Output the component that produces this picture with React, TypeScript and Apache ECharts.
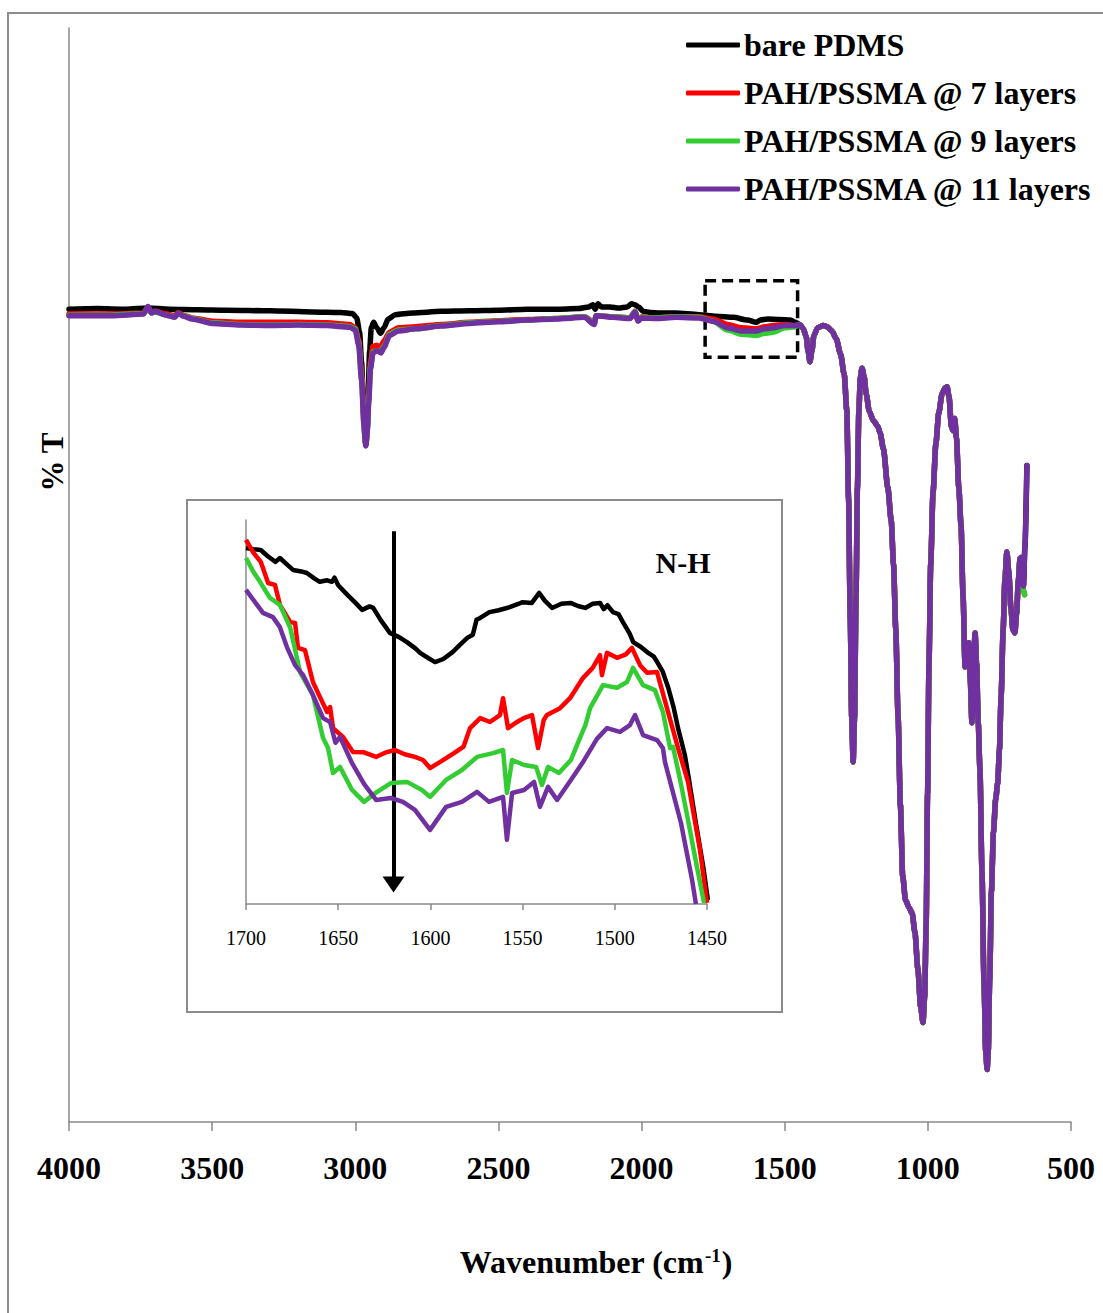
import React, { useEffect, useRef } from "react";
import * as echarts from "echarts";

const SERIES_NAMES = ["bare PDMS", "PAH/PSSMA @ 7 layers", "PAH/PSSMA @ 9 layers", "PAH/PSSMA @ 11 layers"];
const COLORS = ["#000000", "#ff0000", "#33cc33", "#7030a0"];

const MAIN_X = { min: 500, max: 4000, interval: 500 };
const INSET_X = { min: 1450, max: 1700, interval: 50 };

// ---- main spectrum, high-wavenumber part (differs per sample) ----
const BLACK_HI = [
  [4000, 74.3], [3900, 74.35], [3800, 74.3], [3724, 74.4], [3650, 74.3], [3550, 74.25], [3450, 74.2], [3300, 74.15],
  [3150, 74.05], [3050, 74.0], [3010, 73.9], [2995, 73.5], [2985, 72.2], [2978, 69.5], [2972, 66], [2967, 62.8],
  [2963, 61.9], [2959, 63], [2955, 66.5], [2950, 70.5], [2944, 72.6], [2936, 73.1], [2925, 72.6], [2912, 72.1],
  [2900, 72.6], [2885, 73.4], [2860, 73.8], [2800, 73.95], [2700, 74.1], [2600, 74.15], [2500, 74.2], [2400, 74.3],
  [2300, 74.3], [2220, 74.35], [2185, 74.5], [2170, 74.7], [2162, 74.3], [2152, 74.8], [2140, 74.5], [2110, 74.5],
  [2080, 74.4], [2050, 74.5], [2035, 74.8], [2023, 74.7], [2010, 74.5], [1995, 74.1], [1970, 74.0], [1936, 73.95],
  [1880, 73.95], [1800, 73.8], [1740, 73.65], [1680, 73.55], [1630, 73.3], [1600, 73.1], [1585, 73.3], [1560, 73.4],
  [1520, 73.35], [1480, 73.3], [1464, 73.1],
];
const RED_HI = [
  [4000, 73.85], [3850, 73.85], [3740, 73.95], [3724, 74.5], [3712, 74.0], [3700, 74.1], [3660, 73.85], [3630, 73.7],
  [3619, 74.0], [3600, 73.75], [3570, 73.5], [3500, 73.2], [3400, 73.1], [3300, 73.1], [3200, 73.1], [3100, 73.05],
  [3020, 72.9], [3000, 72.6], [2988, 71.5], [2978, 68.5], [2970, 64.5], [2963, 61.9], [2958, 63.5], [2953, 66.5],
  [2947, 69.5], [2938, 70.9], [2925, 71.0], [2912, 70.8], [2900, 71.4], [2880, 72.2], [2850, 72.6], [2788, 72.7],
  [2700, 72.9], [2600, 73.1], [2500, 73.25], [2400, 73.35], [2300, 73.45], [2200, 73.6], [2165, 73.1], [2159, 73.7],
  [2100, 73.6], [2040, 73.5], [2023, 74.1], [2012, 73.3], [2000, 73.6], [1950, 73.5], [1880, 73.6], [1800, 73.6],
  [1750, 73.4], [1700, 72.9], [1650, 72.6], [1600, 72.5], [1570, 72.7], [1540, 72.8], [1500, 72.9], [1464, 72.8],
];
const GREEN_HI = [
  [4000, 73.75], [3850, 73.75], [3740, 73.9], [3724, 74.4], [3712, 73.95], [3700, 74.05], [3660, 73.75], [3630, 73.6],
  [3619, 73.9], [3600, 73.7], [3570, 73.45], [3500, 73.05], [3400, 72.9], [3300, 72.85], [3200, 72.9], [3100, 72.85],
  [3020, 72.7], [3000, 72.5], [2988, 71.2], [2978, 68], [2970, 64], [2963, 61.9], [2958, 63.3], [2953, 66],
  [2947, 69], [2938, 70.4], [2925, 70.5], [2912, 70.4], [2900, 70.9], [2880, 72.0], [2850, 72.4], [2788, 72.5],
  [2700, 72.8], [2600, 73.05], [2500, 73.2], [2400, 73.3], [2300, 73.45], [2200, 73.6], [2165, 73.0], [2159, 73.7],
  [2100, 73.6], [2040, 73.5], [2023, 74.1], [2012, 73.3], [2000, 73.55], [1950, 73.5], [1880, 73.6], [1800, 73.55],
  [1750, 73.2], [1700, 72.4], [1650, 72.0], [1600, 71.9], [1570, 72.1], [1540, 72.2], [1500, 72.6], [1464, 72.7],
];
const PURPLE_HI = [
  [4000, 73.7], [3850, 73.7], [3740, 73.85], [3724, 74.55], [3712, 73.95], [3700, 74.1], [3660, 73.75], [3630, 73.55],
  [3619, 73.95], [3600, 73.65], [3570, 73.4], [3500, 73.0], [3400, 72.85], [3300, 72.8], [3200, 72.85], [3100, 72.8],
  [3020, 72.65], [3000, 72.4], [2988, 71.0], [2978, 67.8], [2970, 63.8], [2963, 61.8], [2958, 63.2], [2953, 65.8],
  [2947, 68.8], [2938, 70.3], [2925, 70.5], [2910, 70.3], [2900, 70.8], [2880, 71.9], [2850, 72.3], [2788, 72.5],
  [2700, 72.75], [2600, 73.0], [2500, 73.15], [2400, 73.3], [2300, 73.4], [2200, 73.55], [2165, 72.9], [2159, 73.7],
  [2100, 73.55], [2040, 73.45], [2023, 74.05], [2012, 73.2], [2000, 73.5], [1950, 73.45], [1880, 73.55], [1800, 73.5],
  [1750, 73.2], [1700, 72.6], [1650, 72.3], [1600, 72.3], [1570, 72.5], [1540, 72.6], [1500, 72.8], [1464, 72.8],
];

// ---- main spectrum, fingerprint region (common to all samples) ----
const FINGERPRINT = [
  [1447, 72.9], [1435, 72.5], [1425, 71.8], [1418, 70.4], [1412, 69.5], [1405, 70.5], [1398, 71.9], [1385, 72.6],
  [1365, 72.8], [1352, 72.7], [1335, 72.3], [1320, 71.6], [1305, 70.2], [1292, 68.3], [1283, 65], [1277, 57],
  [1271, 46], [1266, 37], [1261, 32.9], [1256, 37], [1251, 48], [1246, 58], [1241, 65], [1236, 68], [1230, 68.9],
  [1223, 68.2], [1215, 66.5], [1205, 65], [1190, 64.1], [1175, 63.6], [1167, 63.0], [1155, 61.5], [1140, 58],
  [1128, 55], [1120, 51], [1112, 45], [1104, 37], [1096, 29], [1088, 22.5], [1078, 20.3], [1066, 19.6], [1055, 19.1],
  [1045, 17.3], [1035, 14], [1025, 10.5], [1017, 9.1], [1011, 11.5], [1006, 18], [1001, 30], [996, 42], [990, 51],
  [982, 57.5], [972, 62], [962, 64.8], [950, 66.6], [940, 67.1], [933, 67.2], [926, 66.3], [918, 63.6], [912, 63.2],
  [906, 64.3], [900, 62.5], [892, 58], [884, 54.5], [877, 48], [870, 41.6], [863, 43.2], [857, 43.8], [852, 40.5],
  [846, 36.5], [841, 41.5], [835, 44.7], [830, 42], [824, 36.5], [818, 32.2], [811, 23], [804, 13], [798, 6.5],
  [793, 4.8], [789, 6.5], [784, 13], [778, 21], [771, 26.5], [763, 29.5], [756, 31], [750, 34], [744, 39], [737, 45],
  [731, 49.5], [724, 52.1], [717, 50.2], [710, 47], [703, 45], [696, 44.7], [690, 46.5], [684, 49.5], [678, 51.5],
  [675, 51.6], [670, 50],
];
const TAIL_BLACK_PURPLE = [[666, 49], [661, 52.5], [654, 60]];
const TAIL_RED_GREEN = [[666, 48.6], [662, 48.2]];

// ---- inset (1700-1450 cm-1) ----
const INSET_BLACK = [
  [1700, 92.7], [1696, 92.4], [1692, 92.2], [1688, 90.5], [1684, 89.1], [1681.6, 90.1], [1678, 88.5], [1674.5, 87],
  [1670, 86.6], [1667, 86.2], [1663, 84.8], [1660, 83.9], [1656, 84.3], [1653.4, 83.9], [1652, 85], [1650, 83],
  [1645, 80.5], [1641, 78.6], [1637, 76.6], [1633, 77.5], [1631, 77.1], [1627, 74], [1622, 70.6], [1617, 69.5],
  [1612.7, 68.2], [1608, 66.5], [1605.6, 65.4], [1601, 64], [1597.5, 63], [1593, 63.8], [1588, 65.6], [1584, 67.5],
  [1580, 69.3], [1577, 70.1], [1575, 74], [1573, 74.5], [1568, 76], [1563, 76.5], [1557, 77.3], [1552, 78.2],
  [1550, 78.6], [1545, 78.4], [1541, 81], [1538, 79], [1534, 77.1], [1529, 78.2], [1524, 78.4], [1520, 77.6],
  [1516, 77.1], [1512, 78.2], [1508, 78.4], [1506, 76.8], [1504, 77.8], [1501, 76], [1498, 75.5], [1495.6, 73.4],
  [1492, 70.5], [1490, 68.2], [1486, 67], [1482.5, 65.6], [1479, 64.5], [1477, 63], [1474, 60.5], [1471, 56.3],
  [1468, 51], [1465.7, 45.8], [1462, 38.8], [1460, 33.1], [1456, 21], [1452, 9.6], [1449.5, 1],
];
const INSET_RED = [
  [1700, 94.8], [1696, 91.5], [1692, 89.1], [1688, 83.6], [1684.3, 83.1], [1681.6, 77.9], [1676, 73.4], [1673.4, 73.2],
  [1671.8, 66.7], [1668, 66.1], [1663.7, 57.8], [1660, 54], [1656, 50], [1654.4, 51.3], [1652.8, 45.8], [1647.4, 43.5],
  [1642, 39.6], [1636, 39.5], [1629.5, 38.3], [1624, 39.5], [1619.2, 40.1], [1614, 39], [1608.4, 38.3], [1604, 37.5],
  [1600.2, 35.4], [1594, 37.2], [1587.2, 39.3], [1582, 41], [1578.5, 45.8], [1573, 48.4], [1567.7, 47.4], [1562.3, 49.2],
  [1560.6, 53.6], [1557.9, 45.8], [1553, 47.4], [1549, 48.5], [1544.9, 49.2], [1541.6, 40.6], [1538.5, 48],
  [1536.8, 49.2], [1529.7, 51], [1524.3, 53.6], [1517.2, 58.9], [1512, 61.5], [1508, 64.8], [1507, 59.6],
  [1504.2, 65.4], [1498.8, 64.1], [1494, 65], [1490.7, 66.7], [1486.3, 62.2], [1482.5, 60.2], [1477.1, 60.4],
  [1471.7, 51], [1465.7, 40.6], [1460.3, 31.8], [1453.8, 14.1], [1450, 0.3],
];
const INSET_GREEN = [
  [1700, 90.1], [1696, 86.5], [1692.4, 83.9], [1687, 79.7], [1681.6, 77.9], [1676, 71.9], [1670.7, 60.4], [1663.7, 54.4],
  [1658.2, 43.2], [1655.5, 40.6], [1652.8, 34.1], [1649, 35.7], [1645, 32], [1642.5, 29.7], [1636, 26.6], [1629.5, 29],
  [1621.4, 31.5], [1612.7, 31.8], [1604.6, 29.7], [1600.2, 27.9], [1596, 30], [1591.5, 32.3], [1582.9, 34.9],
  [1574.7, 38.3], [1566, 39.3], [1560.6, 40.1], [1558.5, 28.9], [1555.7, 37.5], [1549.2, 36.2], [1542.7, 35.7],
  [1539.5, 31], [1536.2, 35.7], [1530.3, 34.1], [1523.8, 37.5], [1519.4, 42.7], [1516, 46.5], [1513.4, 51],
  [1506.4, 57], [1498.8, 56.3], [1493.4, 57.8], [1490.1, 61.5], [1484.7, 57], [1478.2, 55.7], [1473.9, 50],
  [1470, 40.6], [1468.4, 40.9], [1464, 31], [1460.3, 21.9], [1456, 11], [1451.6, 0.3],
];
const INSET_PURPLE = [
  [1700, 81.8], [1694, 77.9], [1690.8, 75.8], [1685.4, 74.7], [1681.6, 72.1], [1677.8, 66.9], [1673.4, 62.2], [1669, 59.6],
  [1663.7, 54.4], [1658.2, 48.4], [1654.4, 47.4], [1651.5, 42], [1649, 43.5], [1642.5, 36.7], [1636, 31.3],
  [1629.5, 27.1], [1621.4, 27.6], [1614.9, 26.6], [1608.4, 24.5], [1600.2, 19.3], [1591.5, 25.3], [1582.9, 26.6],
  [1574.7, 29.2], [1568.2, 26.6], [1560.6, 27.9], [1558.5, 16.7], [1555.7, 28.9], [1549.2, 29.7], [1543.8, 31.8],
  [1540.6, 25.3], [1536.2, 30.5], [1531.3, 27.1], [1523.8, 32.3], [1517.2, 37], [1509.7, 43], [1504.2, 45.8],
  [1497.2, 44.8], [1491.8, 46.6], [1489, 49.2], [1484.7, 44], [1477.1, 42.7], [1473.9, 40.6], [1472.8, 37],
  [1464.1, 21.1], [1458.1, 6.3], [1456, 0],
];

// annotations (data coordinates)
const ZOOM_BOX = { x1: 1778, x2: 1455, y1: 76.9, y2: 69.9 };
const ARROW = { x: 1620, yFrom: 97.1, yTo: 5.1 };

const FONT = "'Times New Roman', 'Liberation Serif', serif";
const AXIS_GRAY = "#8a8a8a";

export default function App() {
  const ref = useRef<HTMLDivElement>(null);

  useEffect(() => {
    if (!ref.current) return;
    const chart = echarts.init(ref.current, null, { renderer: "svg" });

    const mainData = [
      BLACK_HI.concat(FINGERPRINT, TAIL_BLACK_PURPLE),
      RED_HI.concat(FINGERPRINT, TAIL_RED_GREEN),
      GREEN_HI.concat(FINGERPRINT, TAIL_RED_GREEN),
      PURPLE_HI.concat(FINGERPRINT, TAIL_BLACK_PURPLE),
    ];
    const insetData = [INSET_BLACK, INSET_RED, INSET_GREEN, INSET_PURPLE];

    const series: any[] = [];
    SERIES_NAMES.forEach((name, i) => {
      const s: any = {
        type: "line",
        name,
        xAxisIndex: 0,
        yAxisIndex: 0,
        data: mainData[i],
        showSymbol: false,
        symbol: "none",
        smooth: 0.25,
        smoothMonotone: "x",
        lineStyle: { color: COLORS[i], width: 5.5, cap: "round", join: "round" },
        itemStyle: { color: COLORS[i] },
        z: 2 + i,
      };
      if (i === 0) {
        s.markArea = {
          silent: true,
          itemStyle: {
            color: "rgba(0,0,0,0)",
            borderColor: "#000",
            borderWidth: 3.5,
            borderType: [11, 6],
          },
          data: [[{ coord: [ZOOM_BOX.x1, ZOOM_BOX.y1] }, { coord: [ZOOM_BOX.x2, ZOOM_BOX.y2] }]],
        };
      }
      series.push(s);
    });
    SERIES_NAMES.forEach((name, i) => {
      const s: any = {
        type: "line",
        name,
        xAxisIndex: 1,
        yAxisIndex: 1,
        data: insetData[i],
        showSymbol: false,
        symbol: "none",
        lineStyle: { color: COLORS[i], width: 4.5, join: "round" },
        itemStyle: { color: COLORS[i] },
        z: 10 + i,
      };
      if (i === 3) {
        s.markLine = {
          silent: true,
          symbol: ["none", "triangle"],
          symbolSize: [22, 16],
          lineStyle: { color: "#000", width: 4, type: "solid" },
          label: { show: false },
          data: [[{ coord: [ARROW.x, ARROW.yFrom] }, { coord: [ARROW.x, ARROW.yTo] }]],
        };
      }
      series.push(s);
    });

    chart.setOption({
      animation: false,
      backgroundColor: "#ffffff",
      grid: [
        { left: 69, right: 32, top: 28, bottom: 191 },
        { left: 246, right: 396, top: 520, bottom: 409 },
      ],
      legend: {
        show: true,
        orient: "vertical",
        left: 686,
        top: 29,
        padding: 0,
        itemWidth: 54,
        itemHeight: 5,
        itemGap: 16,
        icon: "roundRect",
        data: SERIES_NAMES.map((n, i) => ({
          name: n,
          itemStyle: { color: COLORS[i] },
        })),
        itemStyle: { borderWidth: 0 },
        textStyle: {
          fontFamily: FONT,
          fontWeight: "bold",
          fontSize: 32,
          lineHeight: 32,
          color: "#000",
          padding: [0, 0, 0, -1],
        },
        selectedMode: false,
      },
      xAxis: [
        {
          type: "value",
          gridIndex: 0,
          min: MAIN_X.min,
          max: MAIN_X.max,
          interval: MAIN_X.interval,
          inverse: true,
          axisLine: { show: true, onZero: false, lineStyle: { color: AXIS_GRAY, width: 1.5 } },
          axisTick: { show: true, inside: false, length: 9, lineStyle: { color: AXIS_GRAY, width: 1.5 } },
          axisLabel: {
            show: true,
            margin: 30,
            fontFamily: FONT,
            fontWeight: "bold",
            fontSize: 32,
            color: "#000",
            formatter: (v: number) => String(v),
          },
          splitLine: { show: false },
        },
        {
          type: "value",
          gridIndex: 1,
          min: INSET_X.min,
          max: INSET_X.max,
          interval: INSET_X.interval,
          inverse: true,
          axisLine: { show: true, onZero: false, lineStyle: { color: AXIS_GRAY, width: 1.5 } },
          axisTick: { show: true, inside: false, length: 6, lineStyle: { color: AXIS_GRAY, width: 1.5 } },
          axisLabel: {
            show: true,
            margin: 24,
            fontFamily: FONT,
            fontSize: 20,
            color: "#000",
            formatter: (v: number) => String(v),
          },
          splitLine: { show: false },
        },
      ],
      yAxis: [
        {
          type: "value",
          gridIndex: 0,
          min: 0,
          max: 100,
          axisLine: { show: true, onZero: false, lineStyle: { color: AXIS_GRAY, width: 1.5 } },
          axisTick: { show: false },
          axisLabel: { show: false },
          splitLine: { show: false },
        },
        {
          type: "value",
          gridIndex: 1,
          min: 0,
          max: 100,
          axisLine: { show: true, onZero: false, lineStyle: { color: AXIS_GRAY, width: 1.5 } },
          axisTick: { show: false },
          axisLabel: { show: false },
          splitLine: { show: false },
        },
      ],
      graphic: [
        {
          type: "rect",
          silent: true,
          z: 0,
          shape: { x: 8, y: 13, width: 1300, height: 1400 },
          style: { fill: "transparent", stroke: "#8c8c8c", lineWidth: 2 },
        },
        {
          type: "rect",
          silent: true,
          z: 0,
          shape: { x: 187, y: 500, width: 595, height: 512 },
          style: { fill: "transparent", stroke: "#8c8c8c", lineWidth: 2 },
        },
        {
          type: "text",
          silent: true,
          x: 52,
          y: 462,
          rotation: Math.PI / 2,
          style: {
            text: "% T",
            fontFamily: FONT,
            fontWeight: "bold",
            fontSize: 31,
            fill: "#000",
            align: "center",
            verticalAlign: "middle",
          },
        },
        {
          type: "text",
          silent: true,
          x: 683,
          y: 562,
          style: {
            text: "N-H",
            fontFamily: FONT,
            fontWeight: "bold",
            fontSize: 30,
            fill: "#000",
            align: "center",
            verticalAlign: "middle",
          },
        },
        {
          type: "text",
          silent: true,
          x: 596,
          y: 1262,
          style: {
            text: "{a|Wavenumber (cm}{s|-1}{a|)}",
            align: "center",
            verticalAlign: "middle",
            rich: {
              a: { fontFamily: FONT, fontWeight: "bold", fontSize: 32, fill: "#000", color: "#000" },
              s: {
                fontFamily: FONT,
                fontWeight: "bold",
                fontSize: 19,
                fill: "#000",
                color: "#000",
                verticalAlign: "top",
                padding: [0, 1, 12, 1],
              },
            },
          },
        },
      ],
      series,
    });

    return () => {
      chart.dispose();
    };
  }, []);

  return (
    <div
      ref={ref}
      style={{ position: "absolute", left: 0, top: 0, width: 1103, height: 1313, background: "#fff" }}
    />
  );
}
